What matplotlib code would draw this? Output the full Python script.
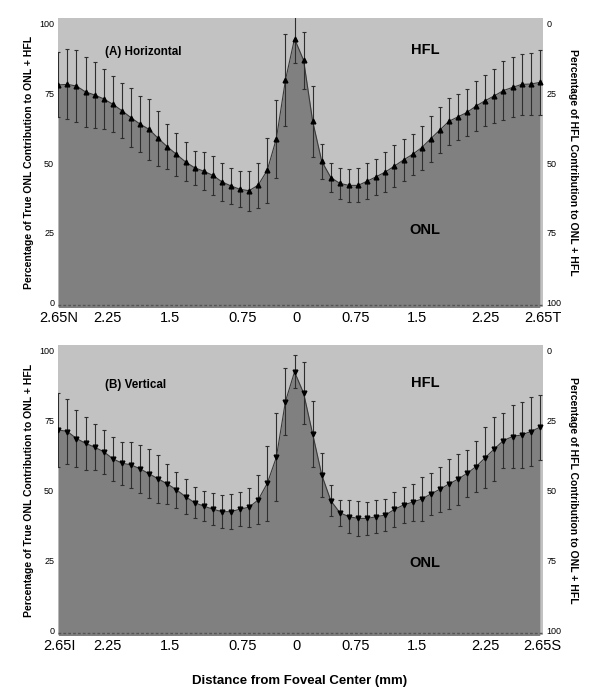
import numpy as np
import matplotlib
matplotlib.use('Agg')
import matplotlib.pyplot as plt

plt.rcParams['font.family'] = ['Liberation Sans', 'DejaVu Sans']

# distance from foveal center (mm), 0.1 mm steps, negative = N / I side
dist = np.round(np.arange(-2.65, 2.66, 0.1), 2)

# (A) horizontal: % true ONL contribution, and SD
horiz = [77.9, 78.1, 77.5, 75.4, 74.3, 72.9, 71.0, 68.7, 66.2, 63.9,
         62.0, 58.8, 55.8, 53.1, 50.4, 48.3, 47.1, 45.6, 43.3, 41.8,
         40.6, 40.1, 42.1, 47.4, 58.7, 79.6, 94.4,
         86.7, 64.9, 50.6, 44.8, 42.7, 42.0, 42.0, 43.5, 45.1, 46.8,
         48.9, 51.1, 53.1, 55.5, 58.7, 61.8, 64.9, 66.5, 68.1, 70.4,
         72.3, 74.0, 75.9, 77.0, 78.1, 78.2, 78.8]
horiz_sd = [11.6, 12.5, 12.9, 12.4, 11.9, 10.6, 10.0, 9.9, 10.5, 9.9,
            11.0, 9.9, 8.0, 7.7, 7.0, 6.0, 6.9, 7.0, 6.7, 6.3,
            6.4, 7.1, 8.0, 11.7, 13.9, 16.5, 8.5,
            10.1, 12.7, 6.3, 5.2, 5.4, 6.0, 6.1, 6.4, 6.5, 7.1,
            7.4, 7.6, 7.4, 7.9, 8.2, 8.2, 8.5, 8.3, 8.4, 8.9,
            9.2, 9.6, 10.4, 10.7, 11.0, 11.0, 11.5]

# (B) vertical
vert = [71.7, 71.1, 68.6, 66.9, 65.5, 63.9, 61.4, 59.8, 59.2, 57.8,
        56.0, 54.2, 52.4, 50.3, 47.9, 45.7, 44.5, 43.4, 42.5, 42.5,
        43.4, 44.1, 46.7, 52.6, 61.9, 81.8, 92.4,
        84.8, 70.2, 55.6, 46.4, 42.1, 40.7, 40.1, 40.1, 40.7, 41.3,
        43.3, 44.9, 45.9, 47.0, 48.8, 50.5, 52.4, 54.1, 56.2, 58.6,
        61.8, 64.9, 67.9, 69.3, 69.9, 71.1, 72.6]
vert_sd = [13.2, 11.5, 10.3, 9.4, 8.3, 7.8, 7.9, 7.7, 8.1, 8.6,
           8.7, 8.7, 7.1, 6.4, 6.1, 5.5, 5.4, 5.6, 6.0, 6.2,
           6.1, 7.0, 8.75, 13.3, 15.7, 11.8, 5.9,
           11.0, 11.9, 7.7, 5.5, 4.6, 5.9, 6.25, 6.0, 5.8, 5.6,
           6.4, 6.4, 6.6, 7.9, 7.4, 8.1, 8.8, 9.1, 8.45, 9.0,
           11.0, 11.5, 9.9, 11.1, 11.8, 12.4, 11.6]

# label positions as drawn in the original (not evenly spaced)
tick_pos = [-2.64, -2.11, -1.42, -0.62, -0.025, 0.625, 1.30, 2.05, 2.68]
ticks_h = ['2.65N', '2.25', '1.5', '0.75', '0', '0.75', '1.5', '2.25', '2.65T']
ticks_v = ['2.65I', '2.25', '1.5', '0.75', '0', '0.75', '1.5', '2.25', '2.65S']

fig = plt.figure(figsize=(6, 6.99), dpi=100)

panels = [
    ([0.0972, 0.5608, 0.807, 0.4134], horiz, horiz_sd, '^', ticks_h, '(A) Horizontal',
     (-1.45, 101.8), (89.6, 90.4, 26.0)),
    ([0.0972, 0.0916, 0.807, 0.4149], vert, vert_sd, 'v', ticks_v, '(B) Vertical',
     (-1.5, 102.0), (87.8, 88.3, 24.3)),
]

for rect, vals, sd, mk, labels, title, ylim, text_y in panels:
    ax = fig.add_axes(rect)
    ax.set_facecolor('#c2c2c2')
    ax.fill_between(dist, -5, vals, color='#808080', lw=0)
    ax.plot(dist, vals, color='#3a3a3a', lw=0.8)
    ax.errorbar(dist, vals, yerr=sd, fmt='none', ecolor='#2e2e2e',
                elinewidth=0.8, capsize=1.5, capthick=0.8)
    ax.plot(dist, vals, ls='none', marker=mk, color='black', ms=3.4)
    ax.axhline(ylim[0] + 0.6, color='#555555', lw=1.0, ls=(0, (2, 1.5)))
    ax.set_xlim(-2.65, 2.65)
    ax.set_ylim(*ylim)
    for s in ax.spines.values():
        s.set_visible(False)
    ax.set_xticks(tick_pos)
    ax.set_xticklabels(labels, fontsize=10.5)
    ax.set_yticks([0, 25, 50, 75, 100])
    ax.set_yticklabels(['0', '25', '50', '75', '100'], fontsize=6.5)
    ax.tick_params(length=0, pad=3)
    ax.tick_params(axis='x', pad=3)
    ax.set_ylabel('Percentage of True ONL Contribution to ONL + HFL',
                  fontsize=7.5, fontweight='bold', labelpad=4)

    ax2 = ax.twinx()
    ax2.set_ylim(100 - ylim[0], 100 - ylim[1])
    for s in ax2.spines.values():
        s.set_visible(False)
    ax2.set_yticks([0, 25, 50, 75, 100])
    ax2.set_yticklabels(['0', '25', '50', '75', '100'], fontsize=6.5)
    ax2.tick_params(length=0, pad=3)
    ax2.set_ylabel('Percentage of HFL Contribution to ONL + HFL',
                   fontsize=7.5, fontweight='bold', rotation=270, labelpad=12)

    ax.text(-2.14, text_y[0], title, fontsize=8.4, fontweight='bold', va='center')
    ax.text(1.39, text_y[1], 'HFL', fontsize=10.5, fontweight='bold', va='center', ha='center')
    ax.text(1.38, text_y[2], 'ONL', fontsize=10.5, fontweight='bold', va='center', ha='center')

fig.text(0.5, 0.022, 'Distance from Foveal Center (mm)', fontsize=9.5,
         fontweight='bold', ha='center')

fig.savefig('out.png', dpi=100)
